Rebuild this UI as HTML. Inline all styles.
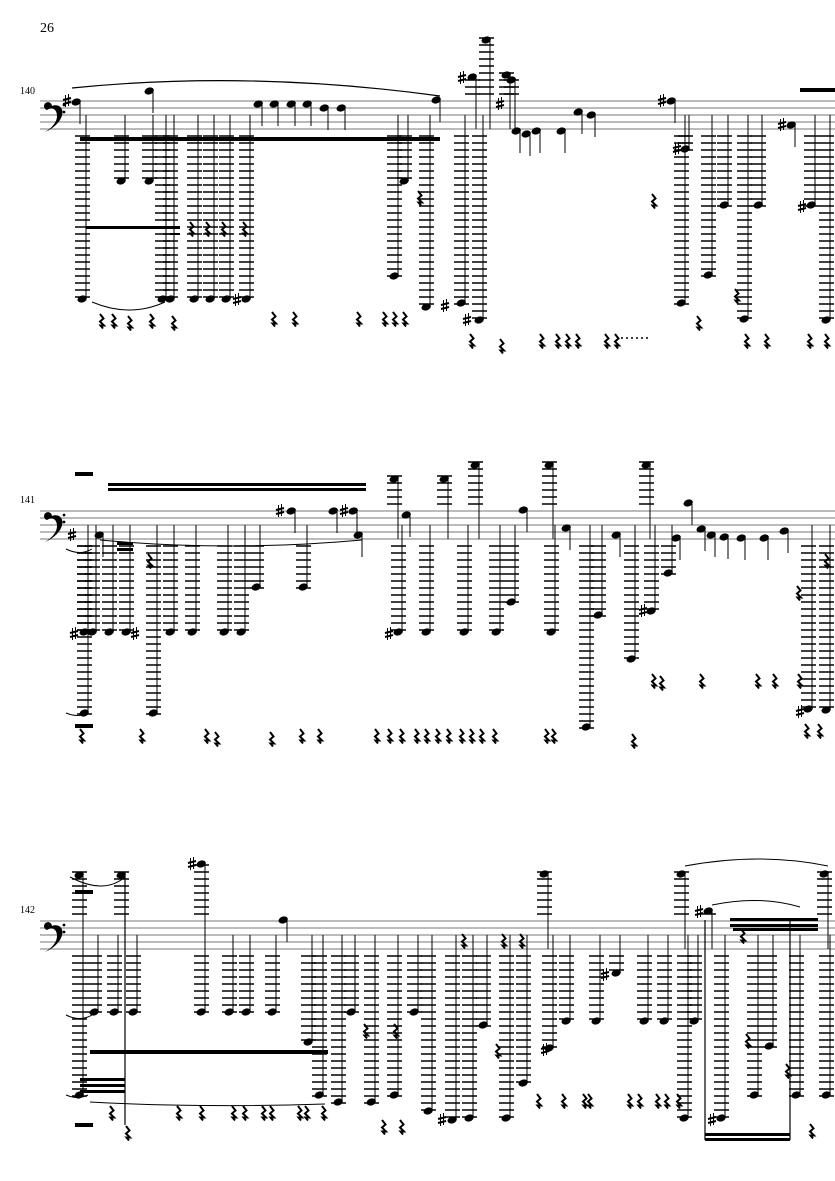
<!DOCTYPE html>
<html><head><meta charset="utf-8"><style>
html,body{margin:0;padding:0;background:#fff;}
svg{display:block;}
text{font-family:"Liberation Serif",serif;}
</style></head><body>
<svg id="s" width="835" height="1181" viewBox="0 0 835 1181" xmlns="http://www.w3.org/2000/svg">
<text x="40" y="32" font-size="14">26</text>
<text x="20" y="94" font-size="10">140</text>
<text x="20" y="503" font-size="10">141</text>
<text x="20" y="913" font-size="10">142</text>
<g id="g"></g>
</svg>
<script>
var g=document.getElementById('g'),h='';
function L(x1,y1,x2,y2,w,c){h+='<line x1="'+x1+'" y1="'+y1+'" x2="'+x2+'" y2="'+y2+'" stroke="'+(c||'#000')+'" stroke-width="'+(w||1)+'"/>';}
function R(x,y,w,hh){h+='<rect x="'+x+'" y="'+y+'" width="'+w+'" height="'+hh+'" fill="#000"/>';}
function N(x,y){h+='<ellipse cx="'+(x-3.8)+'" cy="'+y+'" rx="4.8" ry="3.4" transform="rotate(-20 '+(x-3.8)+' '+y+')" fill="#000"/>';}
function rest(x,y){h+='<path d="M'+x+' '+(y-6)+' l3.5 4.5 l-3.5 3 l4 4 l-3.5 0 l2.5 3" fill="none" stroke="#000" stroke-width="2"/>';}
function sharp(x,y){x-=8;L(x-1.5,y-6,x-1.5,y+6,1);L(x+1.5,y-7,x+1.5,y+5,1);L(x-4,y-1,x+4,y-3,2);L(x-4,y+3,x+4,y+1,2);}
function staff(t){for(var i=0;i<5;i++)L(40,t+i*7,835,t+i*7,1,'#777');
 h+='<path d="M47 '+(t+9)+' a4 4 0 1 1 5 -4 c8 -3 14 4 8 14 c-4 6 -10 10 -15 12 c7 -4 12 -10 12 -16 c0 -8 -6 -9 -10 -6 z" fill="#000"/>';
 h+='<circle cx="64" cy="'+(t+4)+'" r="1.4"/><circle cx="64" cy="'+(t+11)+'" r="1.4"/>';}
function down(t,b,x,y){L(x,t+14,x,y,1);for(var ly=b+7;ly<=y+3;ly+=7)L(x-11,ly,x+4,ly,1.5);N(x,y);}
function up(t,x,y){L(x,t+28,x,y,1);for(var ly=t-7;ly>=y-3;ly-=7)L(x-11,ly,x+4,ly,1.5);N(x,y);}
function sh(x,y,len){L(x,y,x,y+(len||22),1);N(x,y);}
function sys(t,d,u,s,r){var b=t+28;staff(t);d.forEach(function(a){down(t,b,a[0],a[1]);});u.forEach(function(a){up(t,a[0],a[1]);});s.forEach(function(a){sh(a[0],a[1]);});r.forEach(function(a){rest(a[0],a[1]);});}
// system 1
sys(101,[[86,299],[125,181],[153,181],[166,299],[174,299],[198,299],[214,299],[230,299],[250,299],[398,276],[408,181],[430,307],[465,303],[483,320],[685,303],[689,149],[712,275],[728,205],[748,319],[762,205],[815,205],[830,320]],
[[476,77],[490,40],[510,75],[515,80]],
[[80,102],[153,91],[262,104],[278,104],[295,104],[311,104],[328,108],[345,108],[440,100],[520,131],[530,134],[540,131],[565,131],[582,112],[595,115],[675,101],[795,125]],
[[190,228],[206,228],[222,228],[243,228],[418,197],[652,200],[697,322],[735,295],[100,320],[112,320],[128,322],[150,320],[172,322],[272,318],[293,318],[357,318],[383,318],[393,318],[403,318],[540,340],[556,340],[566,340],[576,340],[605,340],[615,340],[745,340],[765,340],[808,340],[825,340],[470,340],[500,345]]);
R(80,137,360,4);R(86,226,94,3);R(170,233,10,2);R(800,88,35,4);
sharp(75,101);sharp(245,300);sharp(470,78);sharp(453,306);sharp(475,320);sharp(508,104);sharp(670,101);sharp(685,149);sharp(790,125);sharp(810,207);
h+='<path d="M72 88 Q250 70 440 96" fill="none" stroke="#000" stroke-width="1.2"/>';
h+='<path d="M92 302 Q130 318 165 302" fill="none" stroke="#000" stroke-width="1"/>';
for(var i=0;i<6;i++)h+='<circle cx="'+(622+i*5)+'" cy="338" r="1"/>';
// system 2
sys(511,[[88,632],[88,713],[96,632],[113,632],[130,632],[157,713],[174,632],[196,632],[228,632],[245,632],[260,587],[307,587],[402,632],[430,632],[468,632],[500,632],[515,602],[555,632],[590,727],[602,615],[635,659],[655,611],[672,573],[812,709],[830,710]],
[[398,479],[448,479],[479,465],[553,465],[650,465]],
[[103,535],[295,511],[337,511],[357,511],[362,535],[410,515],[527,510],[570,528],[620,535],[680,538],[692,503],[705,529],[715,535],[728,537],[745,538],[768,538],[788,531]],
[[80,735],[140,735],[205,735],[215,738],[270,738],[300,735],[318,735],[375,735],[388,735],[400,735],[415,735],[425,735],[436,735],[447,735],[460,735],[470,735],[480,735],[493,735],[545,735],[552,735],[632,740],[652,680],[660,682],[700,680],[756,680],[773,680],[798,680],[797,592],[825,560],[148,560],[805,730],[818,730]]);
R(108,483,258,3);R(108,488,258,3);R(117,542,16,3);R(117,548,16,3);R(75,472,18,4);R(75,724,18,4);
sharp(82,634);sharp(80,535);sharp(288,511);sharp(352,511);sharp(397,634);sharp(143,634);sharp(651,611);sharp(808,712);
h+='<path d="M100 540 Q230 552 362 540" fill="none" stroke="#000" stroke-width="1"/>';
h+='<path d="M66 549 Q80 556 92 549 M66 713 Q78 718 88 713" fill="none" stroke="#000" stroke-width="1"/>';
// system 3
sys(921,[[83,1095],[98,1012],[118,1012],[137,1012],[205,1012],[233,1012],[250,1012],[276,1012],[312,1042],[323,1095],[342,1102],[355,1012],[375,1102],[398,1095],[418,1012],[432,1111],[456,1120],[473,1118],[487,1025],[510,1118],[527,1083],[553,1048],[570,1021],[600,1021],[620,973],[648,1021],[668,1021],[688,1118],[698,1021],[725,1118],[758,1095],[773,1046],[800,1095],[830,1095]],
[[83,875],[125,875],[205,864],[548,874],[685,874],[712,911],[828,874]],
[[287,920]],
[[110,1112],[126,1132],[177,1112],[200,1112],[232,1112],[243,1112],[262,1112],[270,1112],[298,1112],[305,1112],[322,1112],[364,1030],[382,1126],[394,1030],[400,1126],[462,940],[502,940],[520,940],[496,1050],[537,1100],[562,1100],[583,1100],[588,1100],[628,1100],[638,1100],[656,1100],[665,1100],[677,1100],[746,1040],[741,935],[786,1070],[810,1130]]);
R(90,1050,238,4);R(80,1078,45,3);R(80,1084,45,3);R(80,1090,45,3);R(705,1133,85,3);R(705,1138,85,3);R(730,918,88,3);R(730,924,88,3);R(733,928,85,3);R(75,890,18,4);R(75,1123,18,4);
L(705,920,705,1140,1.2);L(790,920,790,1140,1.2);L(125,875,125,1125,1.2);
sharp(200,864);sharp(553,1050);sharp(613,975);sharp(450,1120);sharp(707,912);sharp(720,1120);
h+='<path d="M70 877 Q104 895 125 877" fill="none" stroke="#000" stroke-width="1"/>';
h+='<path d="M685 866 Q760 852 828 866 M712 905 Q760 895 800 907" fill="none" stroke="#000" stroke-width="1"/>';
h+='<path d="M90 1102 Q200 1108 325 1104" fill="none" stroke="#000" stroke-width="1"/>';
h+='<path d="M66 1015 Q80 1022 92 1015 M66 1095 Q78 1100 88 1095" fill="none" stroke="#000" stroke-width="1"/>';
g.innerHTML=h;
</script>
</body></html>
